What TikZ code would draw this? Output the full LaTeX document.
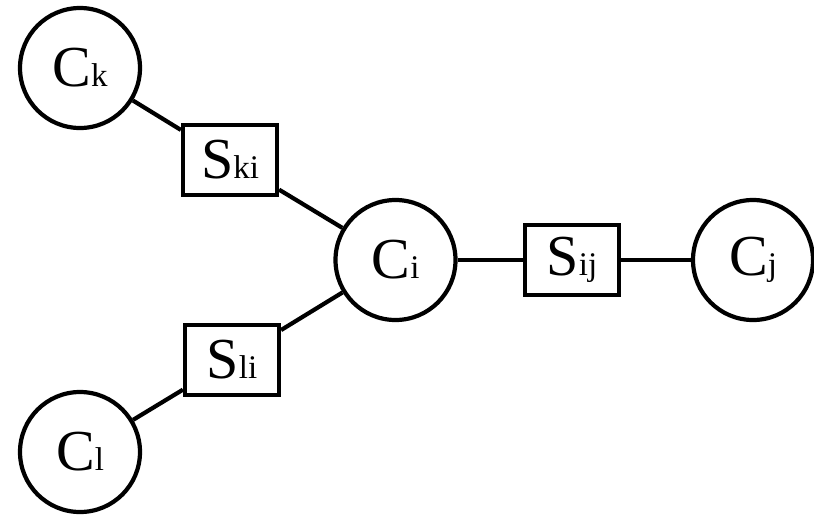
\documentclass[tikz,border=0pt]{standalone}
\usepackage{fontspec}
\setmainfont{Liberation Serif}
\newcommand{\lbl}[2]{{\fontsize{58}{60}\selectfont #1}{\fontsize{33}{34}\selectfont #2}}
\begin{document}
\begin{tikzpicture}[x=1pt,y=-1pt,
  cell/.style={circle,draw,line width=4.2pt,minimum size=120pt,inner sep=0pt},
  sbox/.style={rectangle,draw,line width=4.2pt,minimum width=94pt,minimum height=70pt,inner sep=0pt},
  link/.style={line width=4.2pt}]
\useasboundingbox (0,0) rectangle (814,515);
\node[cell] (Ck) at (80,68) {\lbl{C}{k}};
\node[cell] (Ci) at (395.5,260) {\lbl{C}{i}};
\node[cell] (Cj) at (753,260) {\lbl{C}{j}};
\node[cell] (Cl) at (80,452) {\lbl{C}{l}};
\node[sbox] (Ski) at (230,160) {\lbl{S}{ki}};
\node[sbox] (Sij) at (572,260) {\lbl{S}{ij}};
\node[sbox] (Sli) at (232,360) {\lbl{S}{li}};
\draw[link] (Ck) -- (Ski);
\draw[link] (Ski) -- (Ci);
\draw[link] (Ci) -- (Sij);
\draw[link] (Sij) -- (Cj);
\draw[link] (Ci) -- (Sli);
\draw[link] (Sli) -- (Cl);
\end{tikzpicture}
\end{document}
